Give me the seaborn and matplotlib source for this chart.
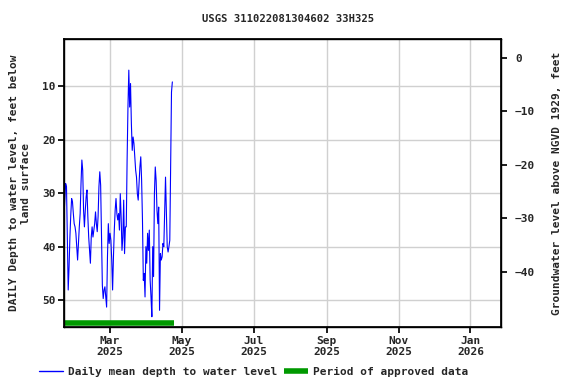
import matplotlib
matplotlib.use("Agg")
import matplotlib.pyplot as plt
import matplotlib.dates as mdates
from matplotlib.lines import Line2D
import numpy as np
import pandas as pd
import seaborn as sns

# daily mean depth to water level, feet below land surface
depth = [34.4, 31.3, 28.2, 28.8, 38.5, 48.1, 43.8, 38.2, 34.1, 31.0, 31.6, 33.8,
         35.7, 36.3, 37.5, 40.0, 42.5, 39.4, 36.3, 33.8, 28.2, 23.8, 25.7, 33.2,
         36.3, 33.2, 30.7, 29.4, 34.4, 38.2, 40.7, 43.1, 38.2, 36.3, 38.2, 36.9,
         35.7, 33.5, 35.7, 37.2, 34.4, 28.8, 26.0, 28.5, 37.5, 47.2, 49.7, 48.1,
         47.5, 49.4, 51.3, 41.9, 35.7, 39.4, 37.5, 38.8, 42.5, 48.1, 41.9, 36.9,
         33.2, 31.0, 33.8, 35.0, 33.8, 36.9, 30.1, 34.4, 40.7, 38.2, 31.3, 41.3,
         36.3, 36.3, 23.8, 13.9, 7.0, 13.9, 9.5, 17.0, 22.0, 19.5, 20.7, 23.2,
         25.7, 27.0, 30.1, 31.3, 28.2, 25.1, 23.2, 27.6, 35.0, 46.3, 45.0, 49.4,
         40.0, 43.1, 37.5, 40.7, 36.9, 46.3, 49.4, 53.1, 40.0, 45.6, 30.1, 25.1,
         27.6, 33.2, 35.7, 32.6, 51.9, 41.3, 42.5, 41.9, 39.4, 40.0, 33.8, 27.0,
         33.2, 40.0, 41.0, 40.0, 38.8, 25.4, 11.1, 9.2]
start_date = "2025-01-21"
end_date = "2025-04-23"
approved_start = "2025-01-21"
approved_end = "2025-04-24"
datum = 4.65  # land surface above NGVD 1929, feet

dates = pd.date_range(start_date, end_date, periods=len(depth))
df = pd.DataFrame({"date": dates, "depth": depth})

sns.set_theme(style="whitegrid")
plt.rcParams["font.family"] = ["DejaVu Sans Mono", "DejaVu Sans"]
plt.rcParams["font.weight"] = "bold"
FS = 8

fig = plt.figure(figsize=(5.76, 3.84), dpi=100)
ax = fig.add_axes([0.111, 0.148, 0.759, 0.750])

sns.lineplot(data=df, x="date", y="depth", ax=ax, color="#0000ff", linewidth=0.8)
ax.plot(pd.to_datetime([approved_start, approved_end]), [54.3, 54.3],
        color="#009900", linewidth=4, solid_capstyle="butt")

ax.set_ylim(55.05, 1.21)
ax.set_xlim(pd.Timestamp("2025-01-21"), pd.Timestamp("2026-01-27"))
ax.set_yticks([10, 20, 30, 40, 50])
ax.xaxis.set_major_locator(mdates.MonthLocator(bymonth=[1, 3, 5, 7, 9, 11]))
ax.xaxis.set_major_formatter(mdates.DateFormatter("%b\n%Y"))
ax.set_xlabel("")
ax.set_ylabel("DAILY Depth to water level, feet below\nland surface",
              fontsize=FS, fontweight="bold", labelpad=8, linespacing=1.25)
ax.grid(True, color="#d0d0d0", linewidth=1)
for s in ax.spines.values():
    s.set_color("black")
    s.set_linewidth(1)
ax.tick_params(axis="both", which="major", length=4, color="black",
               direction="out", bottom=True, left=True, pad=2, labelsize=FS)

ax2 = ax.twinx()
ax2.set_ylim(datum - 55.05, datum - 1.21)
ax2.set_yticks([0, -10, -20, -30, -40])
ax2.grid(False)
ax2.set_ylabel("Groundwater level above NGVD 1929, feet", fontsize=FS,
               fontweight="bold", labelpad=12)
ax2.tick_params(axis="y", length=4, color="black", direction="out", right=True,
                pad=6, labelsize=FS)
for s in ax2.spines.values():
    s.set_color("black")

fig.text(0.5, 0.95, "USGS 311022081304602 33H325", ha="center", va="center",
         fontsize=7.6, fontweight="bold")

handles = [Line2D([], [], color="#0000ff", linewidth=1),
           Line2D([], [], color="#009900", linewidth=4, solid_capstyle="butt")]
fig.legend(handles, ["Daily mean depth to water level", "Period of approved data"],
           loc="center", bbox_to_anchor=(0.44, 0.031), ncol=2, frameon=False,
           fontsize=FS, handlelength=2.2, handletextpad=0.4, columnspacing=0.6)

fig.savefig("out.png", dpi=100)
